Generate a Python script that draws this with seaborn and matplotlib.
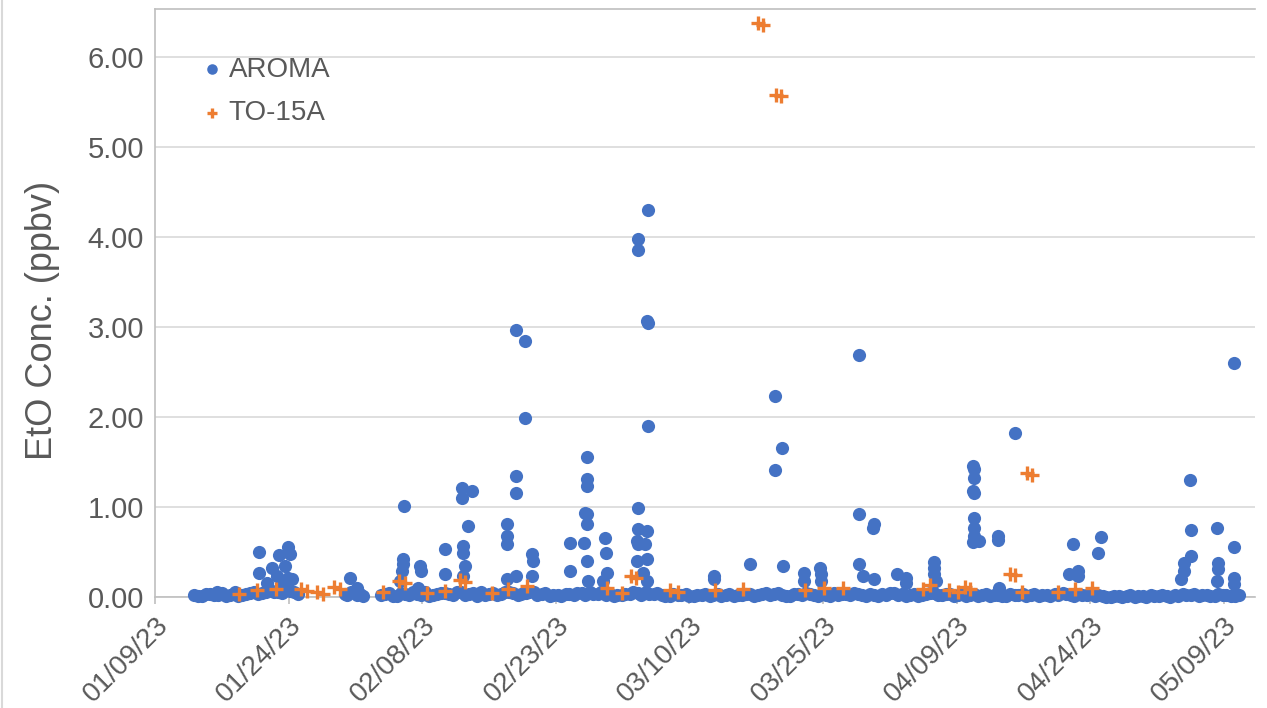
import matplotlib
matplotlib.use("Agg")
import matplotlib.pyplot as plt
import matplotlib.dates as mdates
from matplotlib.lines import Line2D
from matplotlib.ticker import FormatStrFormatter
import numpy as np
import pandas as pd
import seaborn as sns

# ---- data: days counted from 2023-01-09, concentrations in ppbv ----
start_date = "2023-01-09"

# continuous AROMA readings close to zero (first pass of the record)
aroma_base_days = [
    4.4, 5.3, 6.2, 7.1, 8.0, 8.9, 9.8, 10.7, 11.6, 12.5, 13.4, 14.3, 15.2, 16.0,
    21.3, 22.0, 22.7, 23.3,
    25.4, 26.3, 27.2, 28.1, 29.0, 29.9, 30.8, 31.7, 32.6, 33.5,
    34.4, 35.3, 36.2, 37.1, 38.0, 38.9, 39.8, 40.7, 41.6, 42.5,
    43.4, 44.3, 45.2, 46.1, 47.0, 47.9, 48.8, 49.7, 50.6, 51.5,
    52.4, 53.3, 54.2, 55.1, 56.0, 56.9, 57.8, 58.7, 59.6, 60.5,
    61.4, 62.3, 63.2, 64.1, 65.0, 65.9, 66.8, 67.7, 68.6, 69.5,
    70.4, 71.3, 72.2, 73.1, 74.0, 74.9, 75.8, 76.7, 77.6, 78.5,
    79.4, 80.3, 81.2, 82.1, 83.0, 83.9, 84.8, 85.7, 86.6, 87.5,
    88.4, 89.3, 90.2, 91.1, 92.0, 92.9, 93.8, 94.7, 95.6, 96.5,
    97.4, 98.3, 99.2, 100.1, 101.0, 101.9, 102.8, 103.7, 104.6, 105.5,
    106.4, 107.3, 108.2, 109.1, 110.0, 110.9, 111.8, 112.7,
    113.6, 114.5, 115.4, 116.3, 117.2, 118.1, 119.0, 119.9, 120.8, 121.7,
]
aroma_base_ppbv = [
    0.02, 0.01, 0.03, 0.02, 0.01, 0.03, 0.02, 0.04, 0.03, 0.05, 0.06, 0.04, 0.07, 0.03,
    0.03, 0.05, 0.02, 0.01,
    0.02, 0.04, 0.01, 0.03, 0.05, 0.02, 0.01, 0.03, 0.04, 0.02,
    0.05, 0.03, 0.01, 0.02, 0.04, 0.03, 0.06, 0.02, 0.04, 0.05,
    0.03, 0.01, 0.02, 0.03, 0.02, 0.04, 0.05, 0.03, 0.02, 0.01,
    0.02, 0.03, 0.04, 0.05, 0.03, 0.02, 0.01, 0.02, 0.03, 0.01,
    0.02, 0.01, 0.03, 0.02, 0.01, 0.02, 0.03, 0.02, 0.04, 0.03,
    0.02, 0.01, 0.03, 0.04, 0.02, 0.03, 0.01, 0.02, 0.03, 0.04,
    0.02, 0.03, 0.01, 0.02, 0.04, 0.03, 0.02, 0.01, 0.03, 0.04,
    0.02, 0.03, 0.02, 0.01, 0.03, 0.02, 0.01, 0.02, 0.01, 0.02,
    0.03, 0.02, 0.01, 0.02, 0.03, 0.04, 0.02, 0.03, 0.02, 0.01,
    0.01, 0.00, 0.01, 0.01, 0.00, 0.01, 0.02, 0.01,
    0.01, 0.02, 0.03, 0.02, 0.01, 0.02, 0.01, 0.02, 0.01, 0.02,
]

# continuous AROMA readings close to zero (readings in between)
aroma_mid_days = [
    4.8, 5.7, 6.6, 7.5, 8.4, 9.3, 10.2, 11.1, 12.0, 12.9, 13.8, 14.7, 15.6,
    21.6, 22.4, 23.0,
    25.8, 26.7, 27.6, 28.5, 29.4, 30.3, 31.2, 32.1, 33.0, 33.9,
    34.8, 35.7, 36.6, 37.5, 38.4, 39.3, 40.2, 41.1, 42.0, 42.9,
    43.8, 44.7, 45.6, 46.5, 47.4, 48.3, 49.2, 50.1, 51.0, 51.9,
    52.8, 53.7, 54.6, 55.5, 56.4, 57.3, 58.2, 59.1, 60.0, 60.9,
    61.8, 62.7, 63.6, 64.5, 65.4, 66.3, 67.2, 68.1, 69.0, 69.9,
    70.8, 71.7, 72.6, 73.5, 74.4, 75.3, 76.2, 77.1, 78.0, 78.9,
    79.8, 80.7, 81.6, 82.5, 83.4, 84.3, 85.2, 86.1, 87.0, 87.9,
    88.8, 89.7, 90.6, 91.5, 92.4, 93.3, 94.2, 95.1, 96.0, 96.9,
    97.8, 98.7, 99.6, 100.5, 101.4, 102.3, 103.2, 104.1, 105.0, 105.9,
    106.8, 107.7, 108.6, 109.5, 110.4, 111.3, 112.2, 113.1, 114.0, 114.9,
    115.8, 116.7, 117.6, 118.5, 119.4, 120.3, 121.2,
]
aroma_mid_ppbv = [
    0.01, 0.03, 0.02, 0.04, 0.02, 0.01, 0.03, 0.05, 0.04, 0.08, 0.06, 0.09, 0.05,
    0.02, 0.04, 0.03,
    0.03, 0.01, 0.04, 0.02, 0.03, 0.06, 0.02, 0.04, 0.03, 0.05,
    0.02, 0.04, 0.06, 0.03, 0.02, 0.05, 0.04, 0.03, 0.05, 0.02,
    0.04, 0.02, 0.01, 0.03, 0.04, 0.02, 0.03, 0.05, 0.04, 0.02,
    0.03, 0.05, 0.02, 0.03, 0.04, 0.01, 0.03, 0.02, 0.01, 0.02,
    0.03, 0.02, 0.01, 0.03, 0.02, 0.03, 0.01, 0.03, 0.02, 0.04,
    0.01, 0.03, 0.02, 0.03, 0.01, 0.02, 0.04, 0.03, 0.02, 0.03,
    0.01, 0.02, 0.03, 0.04, 0.02, 0.01, 0.03, 0.02, 0.04, 0.02,
    0.03, 0.01, 0.03, 0.02, 0.01, 0.03, 0.02, 0.01, 0.03, 0.02,
    0.01, 0.03, 0.02, 0.01, 0.02, 0.03, 0.01, 0.02, 0.03, 0.02,
    0.00, 0.01, 0.00, 0.02, 0.01, 0.00, 0.01, 0.02, 0.00, 0.01,
    0.02, 0.03, 0.02, 0.01, 0.03, 0.02, 0.01,
]

# AROMA readings above the baseline
aroma_peak_days = [
    6.97, 8.99,
    11.69, 11.69, 13.15, 13.71, 13.93, 14.61, 14.94, 15.17, 14.94, 15.39, 12.6, 14.2,
    21.91, 22.70,
    27.98, 27.87, 27.87, 27.75, 27.53, 29.78, 29.89, 29.55, 32.58, 32.58,
    34.49, 34.49, 35.62, 35.17, 34.61, 34.61, 34.83, 34.61,
    40.56, 41.57, 41.57, 40.56, 40.56, 39.55, 39.55, 39.55, 39.55, 40.56, 42.36, 42.47, 42.36,
    48.54, 48.54, 48.54, 48.31, 48.54, 48.54, 46.63, 46.63, 48.20, 48.54, 48.65,
    50.56, 50.67, 50.79, 50.34,
    55.39, 54.27, 54.27, 55.28, 55.39, 55.39, 54.27, 54.27, 55.28, 54.16, 54.27, 55.06,
    54.16, 55.28, 54.83, 55.28,
    62.81, 62.81,
    66.85, 69.66, 70.45, 69.66, 70.56, 72.81, 72.81, 74.61, 74.72, 74.72,
    78.99, 78.99, 80.67, 80.56, 78.99, 79.44, 80.67,
    83.26, 84.27, 84.27, 87.42, 87.42, 87.42, 87.64,
    91.80, 91.91, 91.91, 91.80, 91.91, 91.91, 91.91, 91.91, 91.80, 92.47,
    94.61, 94.61, 94.72, 96.52,
    103.03, 106.18, 105.84, 102.58, 103.60, 103.60,
    116.18, 116.29, 116.29, 115.51, 115.51, 115.17,
    119.21, 119.33, 119.33, 119.21,
    121.12, 121.12, 121.12, 121.12,
]
aroma_peak_ppbv = [
    0.06, 0.05,
    0.50, 0.27, 0.32, 0.23, 0.47, 0.34, 0.55, 0.48, 0.21, 0.20, 0.15, 0.12,
    0.21, 0.10,
    1.01, 0.42, 0.37, 0.29, 0.18, 0.34, 0.29, 0.10, 0.53, 0.25,
    1.21, 1.10, 1.18, 0.79, 0.57, 0.49, 0.34, 0.23,
    2.96, 2.84, 1.99, 1.34, 1.16, 0.81, 0.68, 0.59, 0.20, 0.23, 0.48, 0.40, 0.23,
    1.55, 1.31, 1.23, 0.93, 0.92, 0.81, 0.60, 0.29, 0.60, 0.40, 0.18,
    0.66, 0.49, 0.27, 0.18,
    4.30, 3.98, 3.85, 3.07, 3.04, 1.90, 0.99, 0.75, 0.73, 0.62, 0.59, 0.59,
    0.40, 0.42, 0.27, 0.18,
    0.23, 0.20,
    0.37, 2.23, 1.66, 1.41, 0.34, 0.27, 0.18, 0.32, 0.25, 0.18,
    2.69, 0.92, 0.81, 0.77, 0.37, 0.23, 0.20,
    0.26, 0.21, 0.16, 0.39, 0.32, 0.25, 0.18,
    1.46, 1.42, 1.32, 1.18, 1.15, 0.88, 0.77, 0.68, 0.61, 0.62,
    0.68, 0.63, 0.10, 1.82,
    0.59, 0.67, 0.49, 0.25, 0.29, 0.23,
    1.30, 0.74, 0.46, 0.38, 0.29, 0.20,
    0.77, 0.38, 0.31, 0.18,
    2.60, 0.56, 0.21, 0.14,
]

# TO-15A canister results (paired entries are duplicate samples)
to15a_days = [
    9.44, 11.46, 13.60, 16.44, 17.04, 18.24, 18.84, 20.15, 20.75, 25.62,
    27.45, 28.05, 30.56, 32.58, 34.19, 34.79, 37.87, 39.66, 41.80, 50.79,
    52.47, 53.41, 54.01, 57.87, 58.76, 62.92, 66.07, 67.68, 68.28, 69.70,
    70.30, 73.03, 75.06, 77.19, 86.18, 86.97, 89.10, 90.11, 90.94, 91.54,
    95.99, 96.59, 97.30, 97.90, 98.50, 101.35, 103.26, 105.17,
]
to15a_ppbv = [
    0.03, 0.08, 0.09, 0.09, 0.07, 0.05, 0.03, 0.11, 0.09, 0.05,
    0.18, 0.16, 0.04, 0.07, 0.19, 0.17, 0.04, 0.09, 0.12, 0.10,
    0.04, 0.23, 0.21, 0.08, 0.06, 0.08, 0.09, 6.37, 6.35, 5.58,
    5.56, 0.08, 0.10, 0.10, 0.09, 0.13, 0.08, 0.06, 0.11, 0.09,
    0.26, 0.24, 0.05, 1.38, 1.36, 0.06, 0.09, 0.10,
]

tick_dates = ["2023-01-09", "2023-01-24", "2023-02-08", "2023-02-23", "2023-03-10",
              "2023-03-25", "2023-04-09", "2023-04-24", "2023-05-09"]
y_ticks = [0, 1, 2, 3, 4, 5, 6]

# ---- frames ----
t0 = pd.Timestamp(start_date)


def to_time(days):
    return t0 + pd.to_timedelta(np.asarray(days, dtype=float), unit="D")


aroma = pd.DataFrame({
    "time": to_time(aroma_base_days + aroma_mid_days + aroma_peak_days),
    "ppbv": aroma_base_ppbv + aroma_mid_ppbv + aroma_peak_ppbv,
})
to15a = pd.DataFrame({"time": to_time(to15a_days), "ppbv": to15a_ppbv})

# ---- style ----
sns.set_theme(style="white")
plt.rcParams["font.family"] = ["Liberation Sans", "DejaVu Sans"]
text_grey = "#595959"
blue = "#4472C4"
orange = "#ED7D31"

fig = plt.figure(figsize=(12.67, 7.08), dpi=100)
ax = fig.add_axes([155 / 1267, 1 - 597 / 708, 1100 / 1267, 588 / 708])

sns.scatterplot(data=aroma, x="time", y="ppbv", ax=ax, color=blue, s=90,
                marker="o", linewidth=0, label="AROMA", clip_on=False, zorder=3)
sns.scatterplot(data=to15a, x="time", y="ppbv", ax=ax, color=orange, s=90,
                marker="+", linewidth=2.4, label="TO-15A", clip_on=False, zorder=4)

ax.set_xlim(t0, t0 + pd.Timedelta(days=123.5))
ax.set_ylim(0, 6.53)

ax.set_xticks(pd.to_datetime(tick_dates))
ax.xaxis.set_major_formatter(mdates.DateFormatter("%m/%d/%y"))
ax.set_yticks(y_ticks)
ax.yaxis.set_major_formatter(FormatStrFormatter("%.2f"))

ax.grid(axis="y", color="#D9D9D9", linewidth=1.2)
ax.set_axisbelow(True)
for side in ["left", "bottom", "top"]:
    ax.spines[side].set_color("#BFBFBF")
    ax.spines[side].set_linewidth(1.2)
ax.spines["right"].set_visible(False)

ax.tick_params(axis="x", which="major", bottom=True, length=5, width=1.2,
               color="#BFBFBF", labelsize=20, labelcolor=text_grey, pad=6)
ax.tick_params(axis="y", left=False, labelsize=21, labelcolor=text_grey, pad=2)
for lbl in ax.get_xticklabels():
    lbl.set_rotation(45)
    lbl.set_ha("right")
    lbl.set_rotation_mode("anchor")

ax.set_xlabel("")
ax.set_ylabel("EtO Conc. (ppbv)", fontsize=26, color=text_grey)
ax.yaxis.set_label_coords(-95 / 1100, (597 - 320) / 588)

leg = ax.legend(loc="upper left", bbox_to_anchor=(0.034, 0.938), frameon=False,
                fontsize=20, markerscale=0.8, handlelength=0.6, handletextpad=0.3,
                labelspacing=0.64, borderaxespad=0)
for txt in leg.get_texts():
    txt.set_color(text_grey)

# thin outer frame line on the left edge of the chart area
fig.add_artist(Line2D([0.0015, 0.0015], [0, 1], transform=fig.transFigure,
                      color="#D9D9D9", linewidth=1.5))

fig.savefig("out.png", dpi=100)
